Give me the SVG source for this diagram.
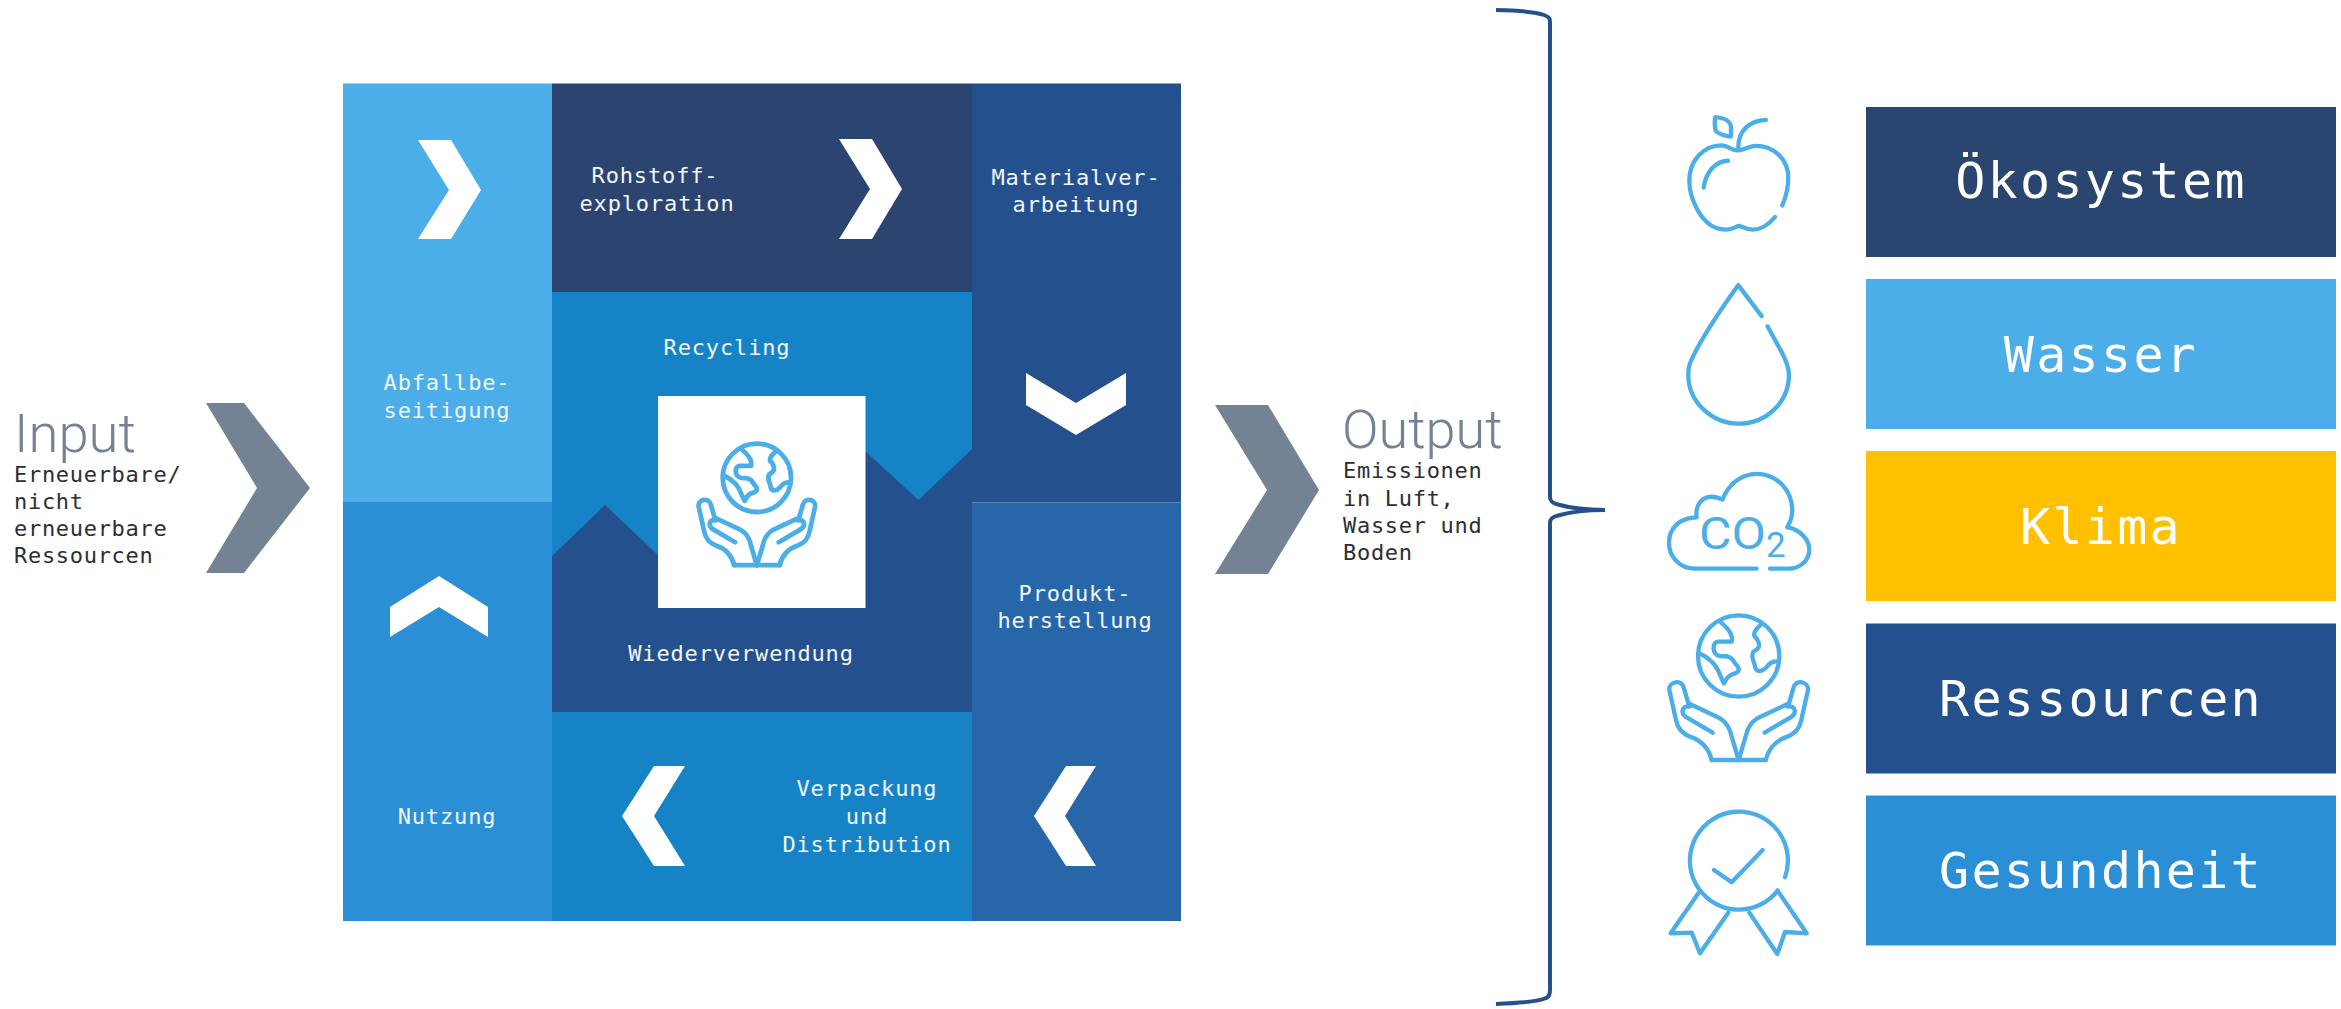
<svg xmlns="http://www.w3.org/2000/svg" xmlns:xlink="http://www.w3.org/1999/xlink" width="2341" height="1009" viewBox="0 0 2341 1009">
<style>
.m{font-family:"DejaVu Sans Mono","Liberation Mono",monospace;font-size:22px;letter-spacing:.85px;text-anchor:middle;fill:#f1f6fb}
.s{font-family:"DejaVu Sans Mono","Liberation Mono",monospace;font-size:22px;letter-spacing:.7px;fill:#2b2f33}
.h{font-family:Roboto,"Liberation Sans",sans-serif;font-weight:300;font-size:54px;fill:#748394}
.b{font-family:"DejaVu Sans Mono","Liberation Mono",monospace;font-size:50px;letter-spacing:2.3px;text-anchor:middle;fill:#fff}
.ic{fill:none;stroke:#4baee8;stroke-width:var(--sw,13);stroke-linecap:round;stroke-linejoin:round}
.ns{fill:none;stroke:#4baee8;stroke-width:4.3;stroke-linecap:round;stroke-linejoin:round;vector-effect:non-scaling-stroke}
.co{font-family:Roboto,"Liberation Sans",sans-serif;font-weight:400;fill:#4baee8}
.w{fill:#fff}.g{fill:#748394}
</style>
<defs>
<g id="hands-globe" class="ic">
<circle cx="296" cy="228" r="122"/>
<path d="M240 125C265 145 280 165 275 185L235 185C215 185 215 225 240 228C265 228 275 230 285 250C300 265 300 275 285 280C265 285 260 295 252 310C240 290 235 260 215 245C200 230 190 225 175 220"/>
<path d="M362 135C345 150 335 165 350 175C362 195 360 205 340 215C330 235 345 245 345 260C350 280 370 275 385 255C395 245 405 243 415 245"/>
<path d="M215 540C205 500 180 480 150 470C125 460 112 440 108 420L88 330C85 305 125 295 132 325L145 370L240 415C262 428 270 445 275 470L296 540M218 458L140 412C120 400 125 375 150 380"/>
<path d="M377 540C387 500 412 480 442 470C467 460 480 440 484 420L504 330C507 305 467 295 460 325L447 370L352 415C330 428 322 445 317 470L296 540M374 458L452 412C472 400 467 375 442 380"/>
<path d="M215 540L377 540"/>
</g>
</defs>
<rect width="2341" height="1009" fill="#fff"/>
<g id="input">
<text class="h" x="14" y="452" textLength="122" lengthAdjust="spacingAndGlyphs">Input</text>
<text class="s" x="14" y="482">Erneuerbare/</text>
<text class="s" x="14" y="509">nicht</text>
<text class="s" x="14" y="536">erneuerbare</text>
<text class="s" x="14" y="563">Ressourcen</text>
<path class="g" d="M206 403L244 403L310 488L244 573L206 573L257 488Z"/>
</g>
<g id="abfallbeseitigung">
<rect x="343" y="83.5" width="209" height="419" fill="#4baee8"/>
<path class="w" d="M418 140L451 140L481 190L451 239L418 239L449 190Z"/>
<text class="m" x="447" y="390">Abfallbe-</text>
<text class="m" x="447" y="418">seitigung</text>
</g>
<g id="nutzung">
<rect x="343" y="502" width="209" height="419" fill="#2b8fd6"/>
<path class="w" d="M390 607L439 576L488 607L488 637L439 607L390 637Z"/>
<text class="m" x="447" y="824">Nutzung</text>
</g>
<g id="rohstoffexploration">
<rect x="552" y="83.5" width="420" height="209" fill="#2b4570"/>
<text class="m" x="655" y="183">Rohstoff-</text>
<text class="m" x="657" y="211">exploration</text>
<path class="w" d="M839 139L872 139L902 189L872 239L839 239L870 189Z"/>
</g>
<g id="materialverarbeitung">
<rect x="972" y="83.5" width="209" height="419" fill="#24518e"/>
<text class="m" x="1076" y="185">Materialver-</text>
<text class="m" x="1076" y="212">arbeitung</text>
<path class="w" d="M1026 373L1076 403L1126 373L1126 405L1076 435L1026 405Z"/>
</g>
<g id="produktherstellung">
<rect x="972" y="502.500" width="209" height="418.500" fill="#2666a9"/>
<text class="m" x="1075" y="601">Produkt-</text>
<text class="m" x="1075" y="628">herstellung</text>
<path class="w" d="M1066 766L1096 766L1065 816L1096 866L1066 866L1034 816Z"/>
</g>
<g id="verpackung">
<rect x="552" y="711.500" width="420" height="209.500" fill="#1583c6"/>
<path class="w" d="M654 766L685 766L654 816L685 866L654 866L622 816Z"/>
<text class="m" x="867" y="796">Verpackung</text>
<text class="m" x="867" y="824">und</text>
<text class="m" x="867" y="852">Distribution</text>
</g>
<g id="wiederverwendung">
<rect x="552" y="292" width="420" height="420" fill="#24518e"/>
<text class="m" x="741" y="661">Wiederverwendung</text>
</g>
<g id="recycling">
<path fill="#1583c6" d="M552 292L972 292L972 449L918.500 500L865 451L865 400L658 400L658 555L605 505L552 556Z"/>
<text class="m" x="727" y="355">Recycling</text>
</g>
<g id="center">
<rect x="658" y="396" width="207.500" height="212" fill="#fff"/>
<use xlink:href="#hands-globe" href="#hands-globe" style="--sw:17" transform="translate(674 414) scale(.28)"/>
</g>
<g id="output">
<path class="g" d="M1215 405L1268 405L1319 490L1268 574L1215 574L1267 490Z"/>
<text class="h" x="1342" y="448">Output</text>
<text class="s" x="1343" y="478">Emissionen</text>
<text class="s" x="1343" y="506">in Luft,</text>
<text class="s" x="1343" y="533">Wasser und</text>
<text class="s" x="1343" y="560">Boden</text>
</g>
<g id="connectors">
<path fill="none" stroke="#24518e" stroke-width="4" d="M1496 10C1520 10.500 1536 12 1544 15C1549 17 1550 18 1550 22L1550 497C1550 501 1552 503 1558 504.500C1570 508 1585 510 1605 510C1585 510 1570 512 1558 515.500C1552 517 1550 519 1550 523L1550 990C1550 995 1549 997 1546 998C1540 1001 1520 1003 1496 1004"/>
</g>
<g id="oekosystem">
<g transform="translate(1480 0) scale(.3333 .3827)">
<path class="ns" d="M907 537C922 505 925 485 925 465C925 415 880 380 825 381C805 382 790 393 772 393C755 393 745 381 725 380C670 380 628 420 628 472C628 510 650 555 680 580C700 597 720 600 740 600C755 600 768 592 777 590C788 593 800 600 818 600C845 600 868 585 885 567"/>
<path class="ns" d="M671 490C678 450 705 421 744 420"/>
<path class="ns" d="M775 385C775 340 810 315 858 313"/>
<path class="ns" d="M706 306C735 308 752 318 753 332L753 357C735 355 715 350 707 342C704 330 703 318 706 306Z"/>
</g>
<rect x="1866" y="107" width="470" height="150" fill="#2a4570"/>
<text class="b" x="2101" y="198">Ökosystem</text>
</g>
<g id="wasser">
<path class="ns" transform="translate(1480 0) scale(.3333 .3827)" d="M845 826L775 745C730 800 680 860 640 930C625 955 625 965 625 980C625 1050 695 1107 777 1107C860 1107 927 1050 927 980C927 960 920 945 905 920L863 853"/>
<rect x="1866" y="279" width="470" height="150" fill="#4baee8"/>
<text class="b" x="2101" y="372">Wasser</text>
</g>
<g id="klima">
<path class="ns" transform="translate(1480 0) scale(.3333 .3827)" d="M830 1486L645 1486C600 1486 567 1455 567 1418C567 1380 600 1352 650 1352C645 1320 665 1298 695 1298C705 1298 720 1302 728 1305C745 1265 785 1238 830 1238C890 1238 937 1280 937 1335C937 1350 930 1365 922 1378C960 1382 988 1412 988 1435C988 1465 960 1486 925 1486L870 1486"/>
<text class="co" x="1699" y="549" font-size="44" textLength="67" lengthAdjust="spacingAndGlyphs">CO</text>
<text class="co" x="1766" y="557" font-size="35" font-weight="500">2</text>
<rect x="1866" y="451" width="470" height="150" fill="#ffc000"/>
<text class="b" x="2101" y="544">Klima</text>
</g>
<g id="ressourcen">
<use xlink:href="#hands-globe" href="#hands-globe" transform="translate(1640 580) scale(.3333)"/>
<rect x="1866" y="623.500" width="470" height="150" fill="#24518e"/>
<text class="b" x="2101" y="716">Ressourcen</text>
</g>
<g id="gesundheit">
<g class="ic" transform="translate(1640 580) scale(.3333)">
<path d="M435 892A147 147 0 1 0 413 932"/>
<path d="M222 870L275 907L368 810"/>
<path d="M175 940L92 1060L155 1058L180 1120L265 998"/>
<path d="M413 932L500 1060L435 1056L412 1122L328 998"/>
</g>
<rect x="1866" y="795.500" width="470" height="150" fill="#2b8fd6"/>
<text class="b" x="2101" y="888">Gesundheit</text>
</g>
</svg>
